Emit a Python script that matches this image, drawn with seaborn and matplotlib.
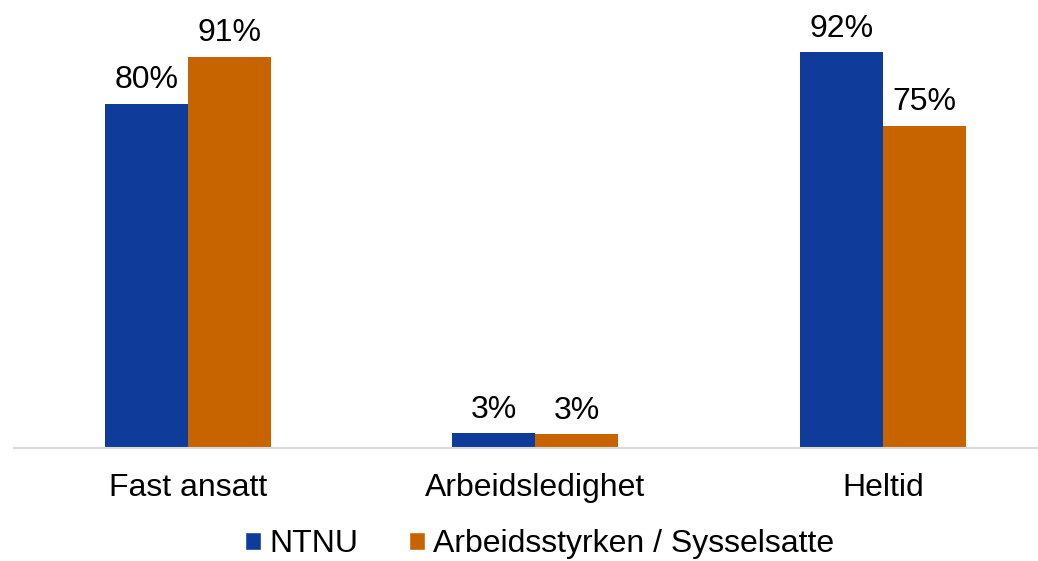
import pandas as pd
import matplotlib as mpl
import matplotlib.pyplot as plt
import seaborn as sns
from matplotlib.patches import Patch

# Data
categories = ["Fast ansatt", "Arbeidsledighet", "Heltid"]
series = ["NTNU", "Arbeidsstyrken / Sysselsatte"]
ntnu_values = [80, 3.4, 92]
arbeid_values = [91, 3.2, 75]
value_labels = [["80%", "3%", "92%"], ["91%", "3%", "75%"]]

BLUE = "#0F3C9A"
ORANGE = "#C86400"

sns.set_style("white")
mpl.rcParams["font.family"] = ["Liberation Sans", "DejaVu Sans"]
mpl.rcParams["text.color"] = "black"
mpl.rcParams["xtick.color"] = "black"

df = pd.DataFrame({
    "kategori": categories * 2,
    "serie": [series[0]] * 3 + [series[1]] * 3,
    "verdi": ntnu_values + arbeid_values,
})

fig = plt.figure(figsize=(10.38, 5.61), dpi=100)
ax = fig.add_axes([14 / 1038, 1 - 448 / 561, 1 - 14 / 1038, (448 - 18) / 561])

sns.barplot(
    data=df,
    x="kategori",
    y="verdi",
    hue="serie",
    palette=[BLUE, ORANGE],
    width=0.478,
    gap=0,
    saturation=1,
    linewidth=0,
    legend=False,
    ax=ax
)

# Value labels
for container, labels in zip(ax.containers, value_labels):
    for bar, text in zip(container, labels):
        ax.text(
            bar.get_x() + bar.get_width() / 2,
            bar.get_height() + 2.0,
            text,
            ha="center",
            va="bottom",
            fontsize=23
        )

ax.set_xlim(-0.5, 2.446)
ax.set_ylim(0, 100)
ax.set_xlabel("")
ax.set_ylabel("")
ax.set_yticks([])

ax.tick_params(axis="x", length=0, pad=18, labelsize=23)

for side in ["top", "right", "left"]:
    ax.spines[side].set_visible(False)
ax.spines["bottom"].set_color("#D9D9D9")
ax.spines["bottom"].set_linewidth(1.5)

handles = [Patch(facecolor=BLUE), Patch(facecolor=ORANGE)]
fig.legend(
    handles,
    series,
    loc="center",
    bbox_to_anchor=(540 / 1038, 1 - 544 / 561),
    ncol=2,
    frameon=False,
    fontsize=23,
    handlelength=0.5,
    handleheight=0.5,
    handletextpad=0.25,
    columnspacing=1.6,
    borderpad=0
)

fig.savefig("out.png", dpi=100)
